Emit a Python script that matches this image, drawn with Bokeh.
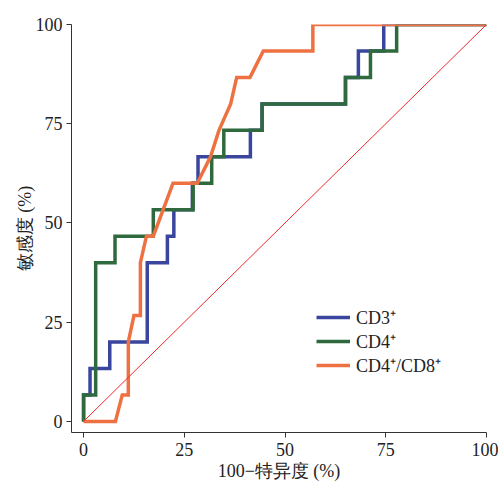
from bokeh.plotting import figure
from bokeh.models import Legend, LegendItem, FixedTicker
from bokeh.embed import file_html
from bokeh.resources import INLINE

# ROC data (100 - specificity, sensitivity), in %
cd3_fpr = [0, 0, 1.6, 1.6, 6.5, 6.5, 15.8, 15.8, 20.8, 20.8, 22.4, 22.4, 27.0, 27.0, 28.4, 28.4,
           41.4, 41.4, 44.3, 44.3, 65.0, 65.0, 68.2, 68.2, 74.5, 74.5, 100]
cd3_tpr = [0, 6.67, 6.67, 13.33, 13.33, 20, 20, 40, 40, 46.67, 46.67, 53.33, 53.33, 60, 60, 66.67,
           66.67, 73.33, 73.33, 80, 80, 86.67, 86.67, 93.33, 93.33, 100, 100]

cd4_fpr = [0, 0, 3.0, 3.0, 7.8, 7.8, 17.3, 17.3, 27.2, 27.2, 31.8, 31.8, 34.8, 34.8, 44.3, 44.3,
           65.0, 65.0, 71.2, 71.2, 77.7, 77.7, 100]
cd4_tpr = [0, 6.67, 6.67, 40, 40, 46.67, 46.67, 53.33, 53.33, 60, 60, 66.67, 66.67, 73.33, 73.33, 80,
           80, 86.67, 86.67, 93.33, 93.33, 100, 100]

ratio_fpr = [0, 7.9, 9.6, 11.1, 11.1, 12.5, 14.1, 14.1, 15.6, 17.3, 22.2, 28.2, 31.5, 33.6, 36.5, 38.0,
             41.3, 44.6, 56.9, 56.9, 100]
ratio_tpr = [0, 0, 6.67, 6.67, 20, 26.67, 26.67, 40, 46.67, 46.67, 60, 60, 66.67, 73.33, 80, 86.67,
             86.67, 93.33, 93.33, 100, 100]

diag_x = [0, 100]
diag_y = [0, 100]

ticks = [0, 25, 50, 75, 100]
labels = ["CD3⁺", "CD4⁺", "CD4⁺/CD8⁺"]
colors = ["#3a459e", "#2f6a3e", "#ee7241"]

SERIF = "'Liberation Serif', 'Times New Roman', serif"
FS = "18px"

p = figure(frame_width=415, frame_height=408, x_range=(-3, 100), y_range=(-2.8, 100),
           output_backend="svg", toolbar_location=None,
           min_border_left=71, min_border_right=12, min_border_top=24, min_border_bottom=10)
p.outline_line_color = None
p.background_fill_color = None
p.border_fill_color = "white"
p.grid.visible = False

for ax in (p.xaxis[0], p.yaxis[0]):
    ax.ticker = FixedTicker(ticks=ticks)
    ax.major_tick_in = 0
    ax.major_tick_out = 5
    ax.minor_tick_line_color = None
    ax.axis_line_color = "#333333"
    ax.major_tick_line_color = "#333333"
    ax.major_label_text_font = SERIF
    ax.major_label_text_font_size = FS
    ax.major_label_text_color = "#222222"
    ax.axis_label_text_font = SERIF
    ax.axis_label_text_font_size = "18px"
    ax.axis_label_text_font_style = "normal"
    ax.axis_label_text_color = "#222222"

p.xaxis.axis_label = "100−特异度 (%)"
p.yaxis.axis_label = "敏感度 (%)"
p.xaxis.major_label_standoff = 5
p.yaxis.major_label_standoff = 4
p.xaxis.axis_label_standoff = 2
p.yaxis.axis_label_standoff = -2

r1 = p.line(cd3_fpr, cd3_tpr, line_color=colors[0], line_width=3.5, line_join="miter")
r2 = p.line(cd4_fpr, cd4_tpr, line_color=colors[1], line_width=3.5, line_join="miter")
r3 = p.line(ratio_fpr, ratio_tpr, line_color=colors[2], line_width=3.5, line_join="miter")
p.line(diag_x, diag_y, line_color="#ee2a2a", line_width=1)

legend = Legend(items=[LegendItem(label=labels[0], renderers=[r1]),
                       LegendItem(label=labels[1], renderers=[r2]),
                       LegendItem(label=labels[2], renderers=[r3])],
                location=(245, 55), padding=0, margin=0, spacing=0,
                glyph_width=34, glyph_height=22, label_height=22, label_standoff=6,
                label_text_font=SERIF, label_text_font_size=FS, label_text_color="#222222",
                border_line_color=None, background_fill_alpha=0)
p.add_layout(legend)

open("out.html", "w").write(file_html(p, INLINE))
